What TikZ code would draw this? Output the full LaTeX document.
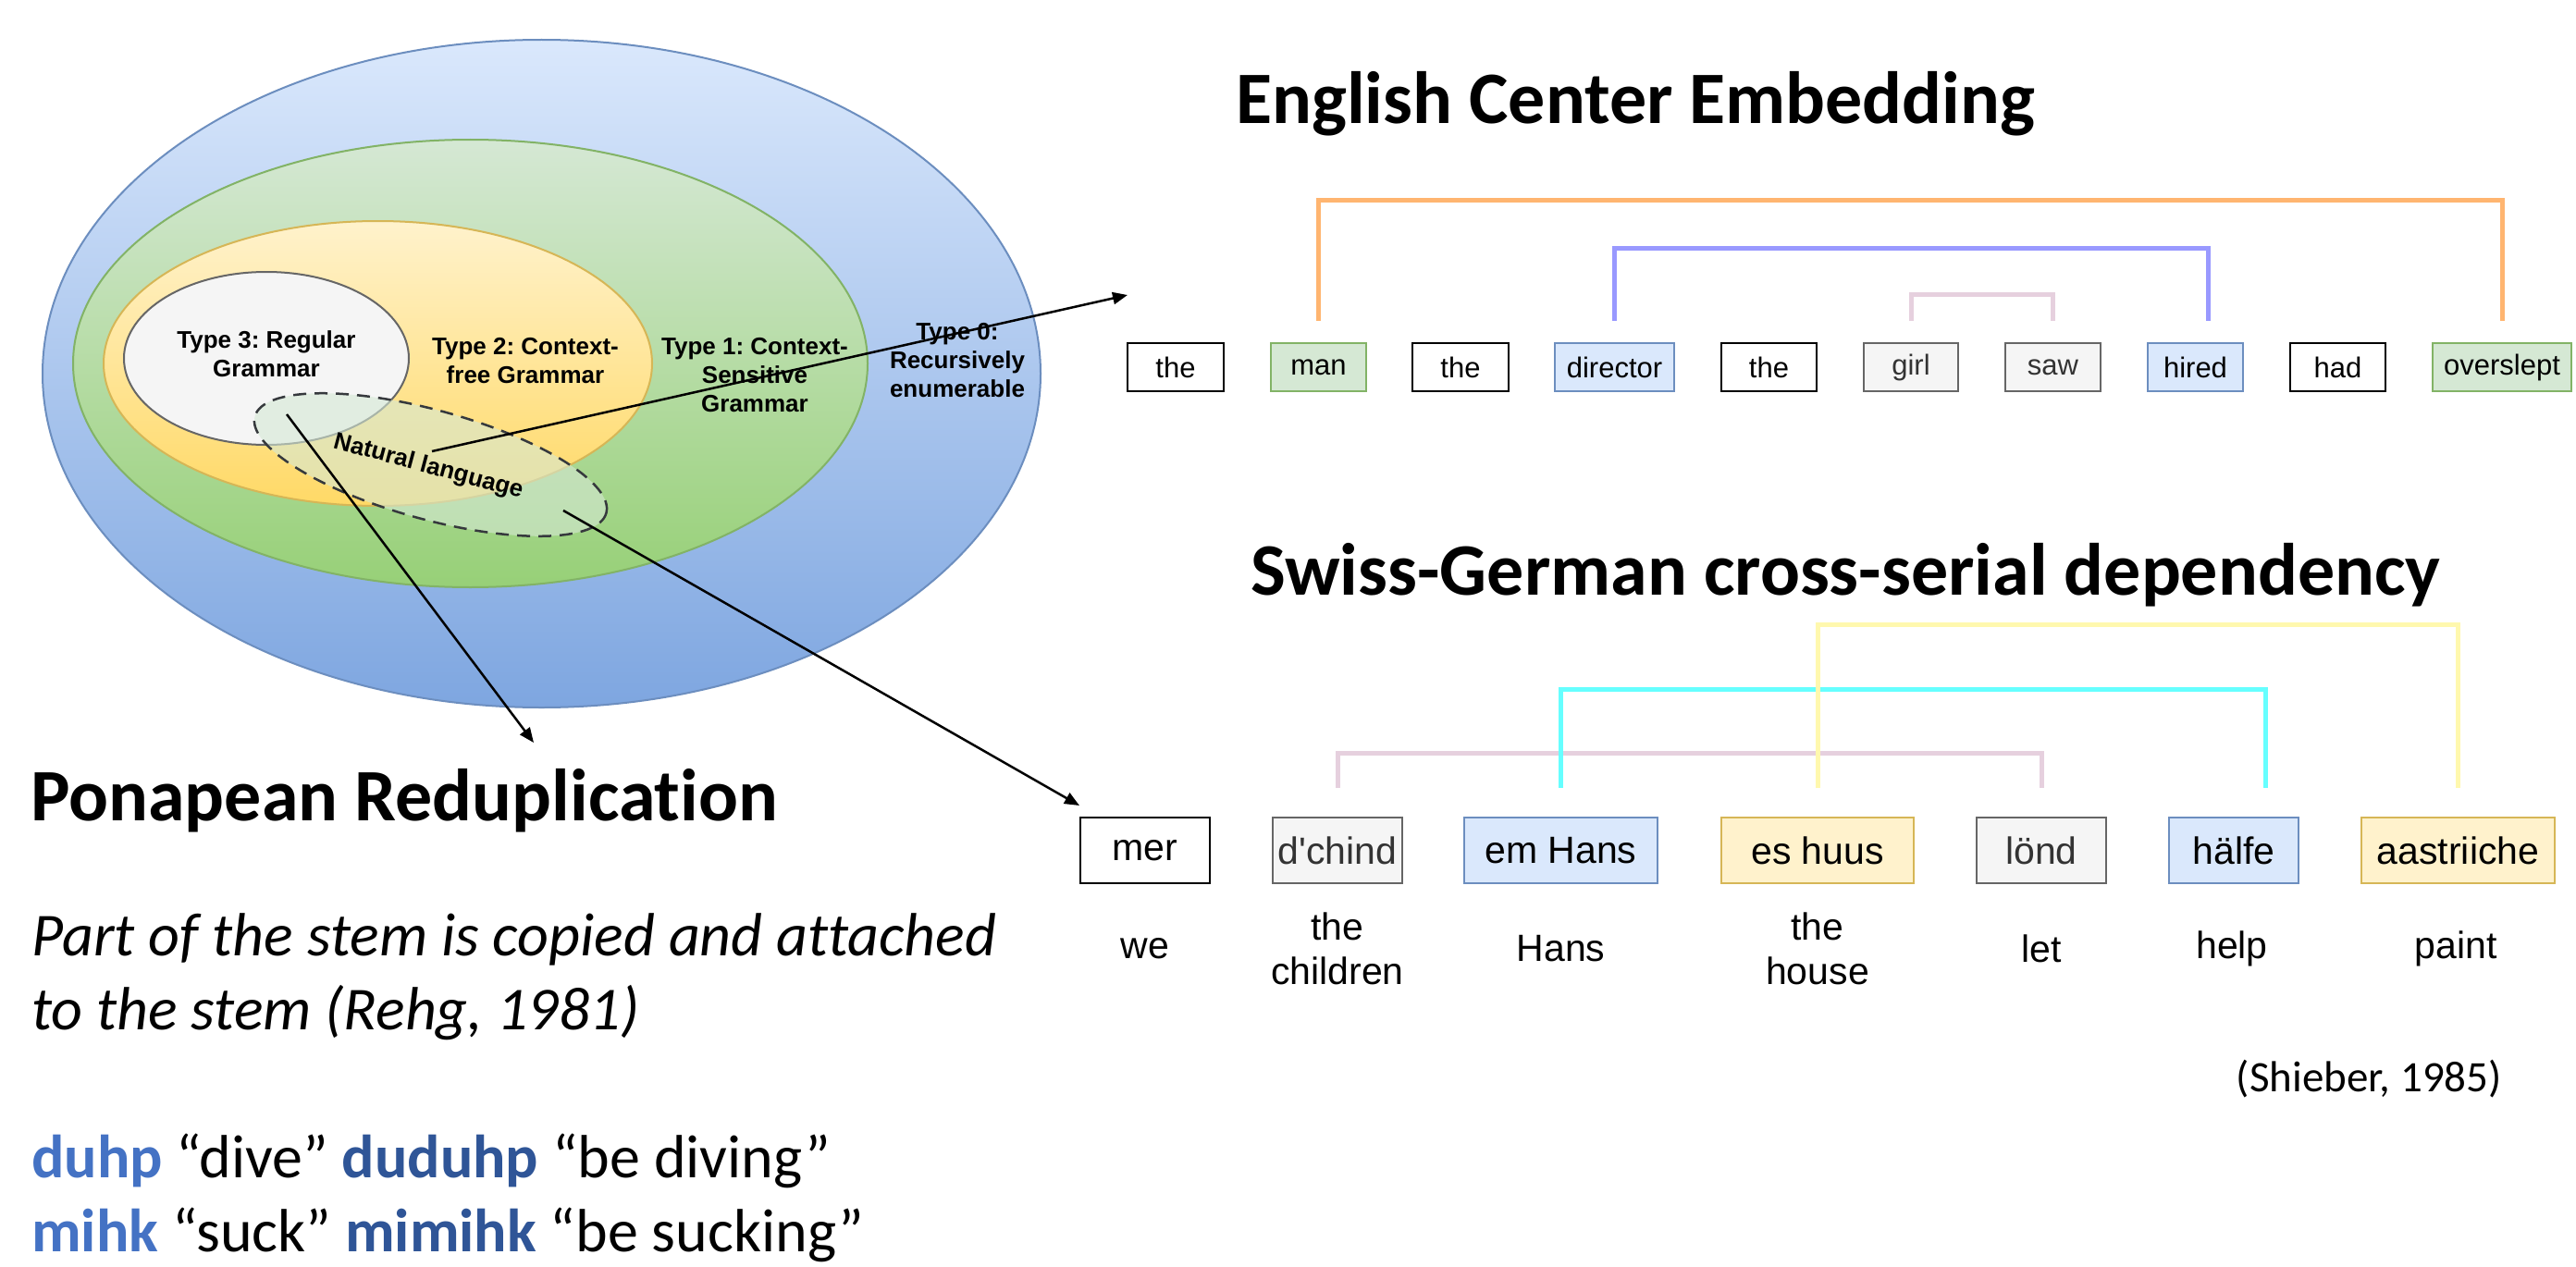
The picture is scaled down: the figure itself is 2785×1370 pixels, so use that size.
\documentclass[tikz,border=0pt]{standalone}
\usepackage{fontspec}
\setmainfont{Carlito}[Ligatures=NoCommon]
\newfontfamily\hel{Liberation Sans}
\usetikzlibrary{shapes.geometric,arrows.meta,calc}
\frenchspacing
\definecolor{bluetop}{HTML}{DAE8FC}
\definecolor{bluebot}{HTML}{7EA6E0}
\definecolor{bluestr}{HTML}{6C8EBF}
\definecolor{greentop}{HTML}{D5E8D4}
\definecolor{greenbot}{HTML}{97D077}
\definecolor{greenstr}{HTML}{82B366}
\definecolor{yeltop}{HTML}{FFF2CC}
\definecolor{yelbot}{HTML}{FFD966}
\definecolor{yelstr}{HTML}{D6B656}
\definecolor{grayfill}{HTML}{F5F5F5}
\definecolor{graystr}{HTML}{666666}
\definecolor{graytxt}{HTML}{333333}
\definecolor{nlstr}{HTML}{36393D}
\definecolor{orangebr}{HTML}{FFB570}
\definecolor{violetbr}{HTML}{9999FF}
\definecolor{pinkbr}{HTML}{E6D0DE}
\definecolor{cyanbr}{HTML}{66FFFF}
\definecolor{yellowbr}{HTML}{FFF8AE}
\definecolor{lightword}{HTML}{4472C4}
\definecolor{darkword}{HTML}{2F5597}
\begin{document}
\frenchspacing
\begin{tikzpicture}[x=1pt,y=-1pt,
  ell/.style={ellipse, inner sep=0pt, line width=2pt},
  typelab/.style={font=\hel\bfseries\fontsize{26}{31}\selectfont, align=center, inner sep=0pt},
  title/.style={font=\fontsize{80}{96}\selectfont\bfseries, inner sep=0pt, anchor=base west},
  body/.style={font=\fontsize{66}{80}\selectfont, inner sep=0pt, anchor=base west},
  ebox/.style={draw, line width=2pt, minimum height=52pt, inner sep=0pt, font=\hel\fontsize{31}{37}\selectfont},
  sbox/.style={draw, line width=2pt, minimum height=71pt, inner sep=0pt, font=\hel\fontsize{41}{48}\selectfont},
  wbox/.style={fill=white, draw=black},
  gbox/.style={fill=greentop, draw=greenstr},
  bbox/.style={fill=bluetop, draw=bluestr},
  grbox/.style={fill=grayfill, draw=graystr, text=graytxt},
  ybox/.style={fill=yeltop, draw=yelstr},
  gloss/.style={font=\hel\fontsize{41}{48}\selectfont, align=center, inner sep=0pt},
  br/.style={line width=5pt, line cap=butt, line join=miter},
  arr/.style={line width=2.5pt, -{Triangle[length=16pt, width=13pt]}}
]
\useasboundingbox[fill=white] (0,0) rectangle (2785,1370);

% Chomsky hierarchy
\node[ell, draw=bluestr, top color=bluetop, bottom color=bluebot, minimum width=1079pt, minimum height=722pt] (t0) at (585.5,404) {};
\node[ell, draw=greenstr, top color=greentop, bottom color=greenbot, minimum width=859pt, minimum height=484pt] (t1) at (508.5,393) {};
\node[ell, draw=yelstr, top color=yeltop, bottom color=yelbot, minimum width=593pt, minimum height=308pt] (t2) at (408.5,393) {};
\node[ell, draw=graystr, fill=grayfill, minimum width=308pt, minimum height=187pt] (t3) at (288,387.5) {};

\node[typelab] (l3) at (288,383) {Type 3: Regular\\Grammar};
\node[typelab] (l2) at (568,390) {Type 2: Context-\\free Grammar};
\node[typelab] (l1) at (816,406) {Type 1: Context-\\Sensitive\\Grammar};
\node[typelab] (l0) at (1035,390) {Type 0:\\Recursively\\enumerable};

\node[ell, draw=nlstr, dash pattern=on 14pt off 9pt, fill=greentop, fill opacity=0.6, line width=2.5pt, minimum width=394pt, minimum height=118pt, rotate=-15.4] (nl) at (465.5,502.5) {};
\node[typelab, rotate=-15] (nllab) at (463,505) {Natural language};

% Titles
\node[title] (ecetitle) at (1336,134) {English Center Embedding};
\node[title] (sgtitle) at (1352,643) {Swiss-German cross-serial dependency};
\node[title] (ptitle) at (33,887) {Ponapean Reduplication};

% Ponapean text
\node[body, font=\fontsize{66}{80}\selectfont\itshape] (pl1) at (34,1033) {Part of the stem is copied and attached};
\node[body, font=\fontsize{66}{80}\selectfont\itshape] (pl2) at (34,1113) {to the stem (Rehg, 1981)};
\node[body] (ex1) at (34,1273) {\textbf{\color{lightword}duhp} “dive” \textbf{\color{darkword}duduhp} “be diving”};
\node[body] (ex2) at (34,1353) {\textbf{\color{lightword}mihk} “suck” \textbf{\color{darkword}mimihk} “be sucking”};

% English center embedding boxes
\node[ebox, wbox, minimum width=104pt] (w1) at (1271,397) {the};
\node[ebox, gbox, minimum width=103pt] (w2) at (1425.5,397) {man};
\node[ebox, wbox, minimum width=104pt] (w3) at (1579,397) {the};
\node[ebox, bbox, minimum width=129pt] (w4) at (1745.5,397) {director};
\node[ebox, wbox, minimum width=103pt] (w5) at (1912.5,397) {the};
\node[ebox, grbox, minimum width=102pt] (w6) at (2066,397) {girl};
\node[ebox, grbox, minimum width=103pt] (w7) at (2219.5,397) {saw};
\node[ebox, bbox, minimum width=103pt] (w8) at (2373.5,397) {hired};
\node[ebox, wbox, minimum width=103pt] (w9) at (2527.5,397) {had};
\node[ebox, gbox, minimum width=150pt] (w10) at (2705,397) {overslept};

\draw[br, orangebr] ($(w2.north)+(0,-23)$) |- ($(w10.north)+(0,-154)$) -- ($(w10.north)+(0,-23)$);
\draw[br, violetbr] ($(w4.north)+(0,-23)$) |- ($(w8.north)+(14,-102)$) -- ($(w8.north)+(14,-23)$);
\draw[br, pinkbr] ($(w6.north)+(0,-23)$) |- ($(w7.north)+(0,-52)$) -- ($(w7.north)+(0,-23)$);

% Swiss German boxes
\node[sbox, wbox, minimum width=140pt] (s1) at (1238,919.5) {mer};
\node[sbox, grbox, minimum width=140pt] (s2) at (1446,919.5) {d'chind};
\node[sbox, bbox, minimum width=209pt] (s3) at (1687.5,919.5) {em Hans};
\node[sbox, ybox, minimum width=208pt] (s4) at (1965,919.5) {es huus};
\node[sbox, grbox, minimum width=140pt] (s5) at (2207,919.5) {lönd};
\node[sbox, bbox, minimum width=140pt] (s6) at (2415,919.5) {hälfe};
\node[sbox, ybox, minimum width=209pt] (s7) at (2657.5,919.5) {aastriiche};

\draw[br, pinkbr] ($(s2.north)+(0,-31)$) |- ($(s5.north)+(0,-69)$) -- ($(s5.north)+(0,-31)$);
\draw[br, cyanbr] ($(s3.north)+(0,-31)$) |- ($(s6.north)+(34,-138)$) -- ($(s6.north)+(34,-31)$);
\draw[br, yellowbr] ($(s4.north)+(0,-31)$) |- ($(s7.north)+(0,-208)$) -- ($(s7.north)+(0,-31)$);

\node[gloss] (g1) at (1238,1026) {we};
\node[gloss] (g2) at (1446,1026) {the\\children};
\node[gloss] (g3) at (1687.5,1026) {Hans};
\node[gloss] (g4) at (1965,1026) {the\\house};
\node[gloss] (g5) at (2207,1026) {let};
\node[gloss] (g6) at (2413,1026) {help};
\node[gloss] (g7) at (2655,1026) {paint};

\node[font=\fontsize{47}{56}\selectfont, inner sep=0pt, anchor=base east] (cite) at (2705,1180) {(Shieber, 1985)};

% Arrows from natural language
\coordinate (a1s) at (467,488);
\coordinate (a1e) at (1219,319);
\coordinate (a2s) at (310,448);
\coordinate (a2e) at (577,803);
\coordinate (a3s) at (609,552);
\coordinate (a3e) at (1167,871);
\draw[arr] (a1s) -- (a1e);
\draw[arr] (a2s) -- (a2e);
\draw[arr] (a3s) -- (a3e);
\end{tikzpicture}
\end{document}
